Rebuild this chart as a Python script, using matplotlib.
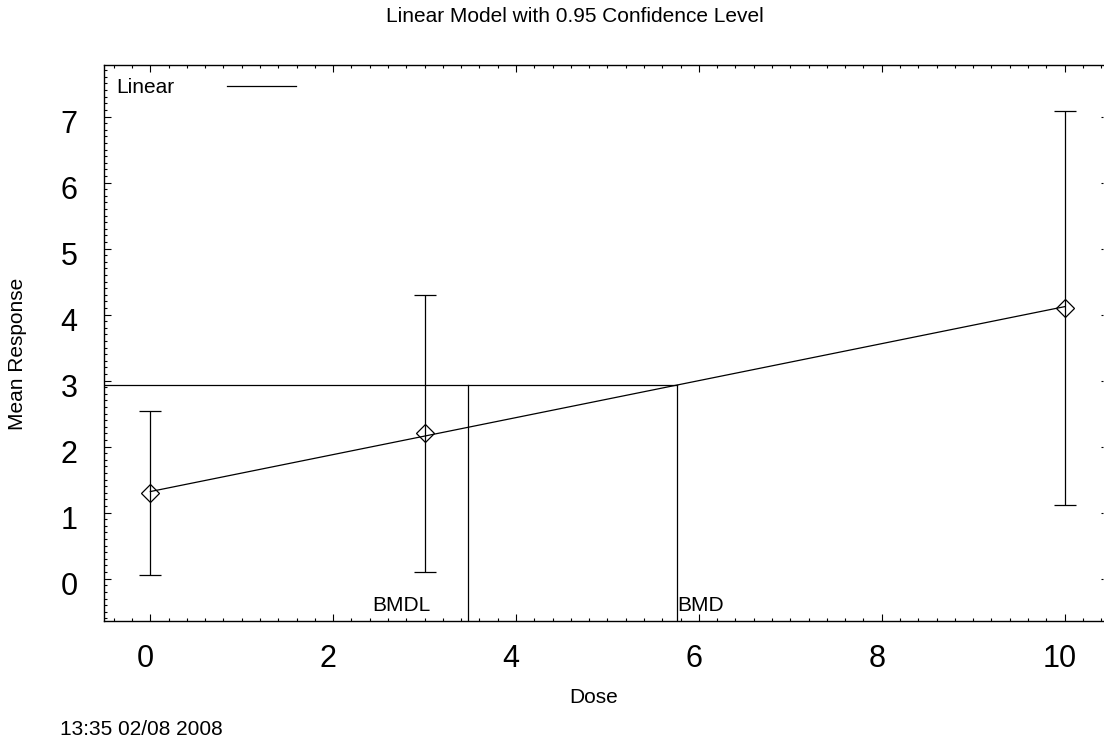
import matplotlib.pyplot as plt
import matplotlib.transforms as mtransforms
from matplotlib.ticker import MultipleLocator
import numpy as np

plt.rcParams['font.family'] = ['Liberation Sans', 'DejaVu Sans']

# observed group means with 95% confidence half-widths
dose = [0, 3, 10]
mean_resp = [1.30, 2.20, 4.10]
half_ci = [1.24, 2.10, 2.98]

# linear fit and benchmark dose results
intercept = 1.32
slope = 0.28
bmd = 5.76
bmdl = 3.47
bmr_level = intercept + slope * bmd

title = "Linear Model with 0.95 Confidence Level"
stamp = "13:35 02/08 2008"

fig = plt.figure(figsize=(11.04, 7.42), dpi=100)
ax = fig.add_axes([104 / 1104, 121.3 / 742, 999 / 1104, 555.7 / 742])

ax.set_xlim(-0.507, 10.42)
ax.set_ylim(-0.636, 7.78)

# fitted model line
fit_x = np.array([dose[0], dose[-1]])
ax.plot(fit_x, intercept + slope * fit_x, color='black', lw=0.9, label='Linear')

# data with confidence bars
ax.errorbar(dose, mean_resp, yerr=half_ci, fmt='none', ecolor='black',
            elinewidth=0.9, capsize=8, capthick=0.9)
ax.plot(dose, mean_resp, 'D', ms=9.5, mfc='none', mec='black', mew=0.9)

# BMR level and BMD / BMDL markers
ax.plot([ax.get_xlim()[0], bmd], [bmr_level, bmr_level], color='black', lw=0.9)
ymin = ax.get_ylim()[0]
ax.plot([bmdl, bmdl], [ymin, bmr_level], color='black', lw=0.9)
ax.plot([bmd, bmd], [ymin, bmr_level], color='black', lw=0.9)
ax.annotate('BMDL', xy=(bmdl, ymin), xytext=(-26.5, 7.2), textcoords='offset points',
            ha='right', va='baseline', fontsize=15)
ax.annotate('BMD', xy=(bmd, ymin), xytext=(0.5, 7.2), textcoords='offset points',
            ha='left', va='baseline', fontsize=15)

# axes styling
ax.spines['right'].set_visible(False)
for s in ['left', 'top', 'bottom']:
    ax.spines[s].set_linewidth(1.0)
ax.xaxis.set_major_locator(MultipleLocator(2))
ax.xaxis.set_minor_locator(MultipleLocator(0.2))
ax.yaxis.set_major_locator(MultipleLocator(1))
ax.yaxis.set_minor_locator(MultipleLocator(0.1))
ax.tick_params(which='both', direction='in', top=True, right=False, width=0.8)
ax.tick_params(which='major', length=5)
ax.tick_params(which='minor', length=2.5)
ax.tick_params(axis='x', labelsize=22, pad=17)
ax.tick_params(axis='y', labelsize=22, pad=19)

shift_x = mtransforms.ScaledTranslation(-0.05, 0, fig.dpi_scale_trans)
for lab in ax.get_xticklabels():
    lab.set_transform(lab.get_transform() + shift_x)
shift_y = mtransforms.ScaledTranslation(0, -0.05, fig.dpi_scale_trans)
for lab in ax.get_yticklabels():
    lab.set_transform(lab.get_transform() + shift_y)

# tiny right-side major ticks
ax_r = ax.twinx()
ax_r.set_ylim(ax.get_ylim())
ax_r.yaxis.set_major_locator(MultipleLocator(1))
ax_r.tick_params(axis='y', direction='in', length=1.5, width=0.8, labelright=False)
for s in ax_r.spines.values():
    s.set_visible(False)

ax.legend(loc='upper left', bbox_to_anchor=(0.0127, 0.976), markerfirst=False,
          frameon=False, fontsize=15, handlelength=3.3, handletextpad=2.5,
          borderaxespad=0, borderpad=0)

fig.text(575 / 1104, 1 - 16 / 742, title, ha='center', va='center', fontsize=15)
fig.text(18 / 1104, 1 - 353.5 / 742, 'Mean Response', ha='center', va='center',
         rotation=90, fontsize=15)
fig.text(594 / 1104, 1 - 703 / 742, 'Dose', ha='center', va='baseline', fontsize=15)
fig.text(60 / 1104, 7 / 742, stamp, ha='left', va='baseline', fontsize=15)

fig.savefig('out.png', dpi=100)
